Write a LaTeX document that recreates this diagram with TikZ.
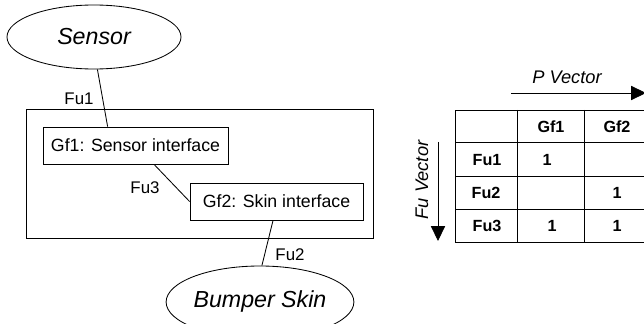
\documentclass[tikz,border=0pt]{standalone}
\usepackage{fontspec}
\setmainfont{Liberation Sans}
\usetikzlibrary{arrows.meta,shapes.geometric,calc}

\begin{document}
\begin{tikzpicture}[x=0.25mm,y=-0.25mm,line width=0.6pt,
  actor/.style={draw,ellipse,inner sep=0,font=\fontsize{16.5}{18}\selectfont\itshape},
  gfbox/.style={draw,rectangle,inner sep=0,minimum height=9.25mm,font=\fontsize{12.6}{14}\selectfont},
  fulabel/.style={font=\fontsize{12}{14}\selectfont},
  cell/.style={font=\fontsize{11.5}{13}\selectfont\bfseries},
  vec/.style={-{Triangle[length=10.5pt,width=10pt]}}]

\useasboundingbox (0,0) rectangle (644,324);

% functional model
\node[actor,minimum width=43.5mm,minimum height=16mm] (sensor) at (94,37) {Sensor};
\node[draw,rectangle,minimum width=86.75mm,minimum height=32.25mm] (module) at (199.5,173.5) {};
\node[gfbox,minimum width=46.25mm] (gf1) at (135.5,145.5) {Gf1: Sensor interface};
\node[gfbox,minimum width=43.25mm] (gf2) at (276.5,201.5) {Gf2: Skin interface};
\node[actor,minimum width=44mm,minimum height=18mm] (bumper) at (260,302) {Bumper Skin};

\draw (sensor.276) -- ($(gf1.north west)!0.35!(gf1.north east)$);
\draw ($(gf1.south west)!0.6!(gf1.south east)$) -- (gf2.west);
\draw ($(gf2.south west)!0.48!(gf2.south east)$) -- (bumper.87);

\node[fulabel] (fu1) at (79,99)  {Fu1};
\node[fulabel] (fu3) at (145,188) {Fu3};
\node[fulabel] (fu2) at (290,255) {Fu2};

% matrix
\node[font=\fontsize{13}{15}\selectfont\itshape] (pvec) at (567,77) {P Vector};
\coordinate (pstart) at (511,93);
\coordinate (pend)   at (646,93);
\draw[vec] (pstart) -- (pend);

\node[font=\fontsize{13}{15}\selectfont\itshape,rotate=90] (fuvec) at (422,180) {Fu Vector};
\coordinate (fstart) at (438,142);
\coordinate (fend)   at (438,241);
\draw[vec] (fstart) -- (fend);

\draw (455,110) rectangle (651,242);
\draw (455,142) -- (651,142);
\draw (455,176) -- (651,176);
\draw (455,209) -- (651,209);
\draw (517,110) -- (517,242);
\draw (584,110) -- (584,242);

\node[cell] (hgf1) at (551,127) {Gf1};
\node[cell] (hgf2) at (617,127) {Gf2};
\node[cell] (hfu1) at (487,160) {Fu1};
\node[cell] (hfu2) at (486,193) {Fu2};
\node[cell] (hfu3) at (487,226) {Fu3};

\node[cell] (c11) at (547,160) {1};
\node[cell] (c22) at (617,193) {1};
\node[cell] (c31) at (552,226) {1};
\node[cell] (c32) at (617,226) {1};

\end{tikzpicture}
\end{document}
